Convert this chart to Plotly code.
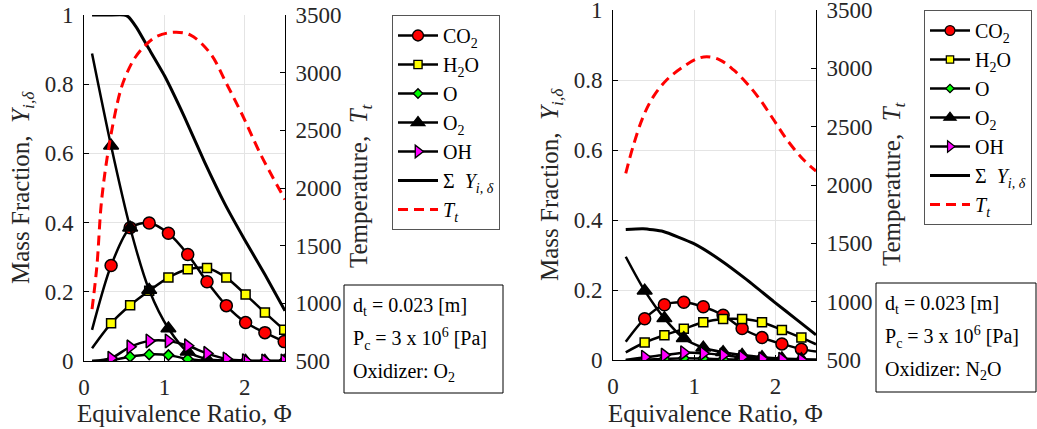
import plotly.graph_objects as go

# ---------------- data: left panel (oxidizer O2) ----------------
PHI_O2 = [0.10, 0.337, 0.574, 0.811, 1.05, 1.29, 1.53, 1.77, 2.01, 2.25, 2.49]
CO2_O2 = [0.090, 0.276, 0.385, 0.399, 0.369, 0.308, 0.229, 0.160, 0.111, 0.082, 0.056]
H2O_O2 = [0.037, 0.109, 0.161, 0.203, 0.241, 0.265, 0.269, 0.241, 0.192, 0.140, 0.090]
O_O2 = [0.000, 0.002, 0.0125, 0.019, 0.017, 0.006, 0.001, 0.000, 0.000, 0.000, 0.000]
O2_O2 = [0.889, 0.622, 0.385, 0.205, 0.094, 0.027, 0.006, 0.001, 0.000, 0.000, 0.000]
OH_O2 = [0.000, 0.008, 0.041, 0.058, 0.058, 0.044, 0.022, 0.006, 0.001, 0.000, 0.000]
MARK_O2 = [False, True, True, True, True, True, True, True, True, True, True]

SUM_PHI_O2 = [0.10, 0.30, 0.50, 0.55, 0.65, 0.80, 1.00, 1.25, 1.50, 1.75, 2.00, 2.25, 2.50]
SUM_O2 = [1.000, 1.000, 1.000, 0.995, 0.965, 0.905, 0.825, 0.705, 0.575, 0.455, 0.350, 0.250, 0.145]

T_PHI_O2 = [0.10, 0.16, 0.22, 0.32, 0.45, 0.53, 0.63, 0.76, 0.90, 1.11, 1.32, 1.57, 1.77, 1.98, 2.19, 2.50]
T_O2 = [950, 1320, 1900, 2400, 2835, 2990, 3125, 3235, 3312, 3350, 3327, 3168, 2908, 2618, 2301, 1900]

# ---------------- data: right panel (oxidizer N2O) ----------------
PHI_N2O = [0.157, 0.39, 0.633, 0.872, 1.112, 1.356, 1.59, 1.835, 2.08, 2.32, 2.50]
CO2_N2O = [0.052, 0.118, 0.158, 0.165, 0.152, 0.128, 0.090, 0.064, 0.046, 0.031, 0.024]
H2O_N2O = [0.022, 0.050, 0.071, 0.089, 0.108, 0.117, 0.117, 0.108, 0.086, 0.064, 0.045]
O_N2O = [0.000, 0.001, 0.003, 0.005, 0.004, 0.002, 0.001, 0.000, 0.000, 0.000, 0.000]
O2_N2O = [0.295, 0.198, 0.119, 0.062, 0.035, 0.022, 0.014, 0.008, 0.004, 0.002, 0.001]
OH_N2O = [0.000, 0.008, 0.014, 0.021, 0.019, 0.014, 0.008, 0.003, 0.002, 0.000, 0.000]
MARK_N2O = [False, True, True, True, True, True, True, True, True, True, False]

SUM_PHI_N2O = [0.157, 0.371, 0.619, 0.99, 1.32, 1.65, 1.98, 2.27, 2.50]
SUM_N2O = [0.373, 0.375, 0.367, 0.333, 0.286, 0.229, 0.167, 0.114, 0.072]

T_PHI_N2O = [0.157, 0.247, 0.371, 0.495, 0.66, 0.866, 1.03, 1.155, 1.32, 1.485, 1.65, 1.814, 1.98, 2.144, 2.35, 2.50]
T_N2O = [2100, 2330, 2585, 2755, 2900, 3014, 3080, 3100, 3071, 2986, 2871, 2729, 2557, 2386, 2214, 2120]

Y_TICKS = [0, 0.2, 0.4, 0.6, 0.8, 1]
Y_TICKTEXT = ["0", "0.2", "0.4", "0.6", "0.8", "1"]
T_TICKS = [500, 1000, 1500, 2000, 2500, 3000, 3500]
X_TICKS = [0, 1, 2]

SPECIES = [
    ("CO<sub>2</sub>", "circle", "#ff0000", 12),
    ("H<sub>2</sub>O", "square", "#ffff00", 9),
    ("O", "diamond", "#00ff00", 8),
    ("O<sub>2</sub>", "triangle-up", "#000000", 13),
    ("OH", "triangle-right", "#ff00ff", 12),
]

FONT = "Liberation Serif"
W, H = 1037, 429

fig = go.Figure()


def add_panel(phi, series, mark, sphi, ssum, tphi, tval, xa, ya, ya2, legend):
    for (name, sym, col, size), vals in zip(SPECIES, series):
        sizes = [size if m else 0 for m in mark]
        lws = [1.5 if m else 0 for m in mark]
        fig.add_trace(go.Scatter(
            x=phi, y=vals, mode="lines+markers", name=name,
            line=dict(color="black", width=2.5, shape="spline", smoothing=0.8),
            marker=dict(symbol=sym, color=col, size=sizes, opacity=1,
                        line=dict(color="black", width=lws)),
            xaxis=xa, yaxis=ya, legend=legend,
        ))
    fig.add_trace(go.Scatter(
        x=sphi, y=ssum, mode="lines",
        name="\u03a3&nbsp;&nbsp;<i>Y</i><sub><i>i, \u03b4</i></sub>",
        line=dict(color="black", width=3, shape="spline", smoothing=0.5),
        xaxis=xa, yaxis=ya, legend=legend,
    ))
    fig.add_trace(go.Scatter(
        x=tphi, y=tval, mode="lines", name="<i>T</i><sub><i>t</i></sub>",
        line=dict(color="#ff0000", width=3, dash="10px,6px", shape="spline"),
        xaxis=xa, yaxis=ya2, legend=legend,
    ))


add_panel(PHI_O2, [CO2_O2, H2O_O2, O_O2, O2_O2, OH_O2], MARK_O2,
          SUM_PHI_O2, SUM_O2, T_PHI_O2, T_O2, "x", "y", "y2", "legend")
add_panel(PHI_N2O, [CO2_N2O, H2O_N2O, O_N2O, O2_N2O, OH_N2O], MARK_N2O,
          SUM_PHI_N2O, SUM_N2O, T_PHI_N2O, T_N2O, "x2", "y3", "y4", "legend2")

TICKFONT = dict(family=FONT, size=23, color="#262626")
GRID = "#e4e4e4"

xcommon = dict(range=[0, 2.5], tickvals=X_TICKS, showgrid=True, gridcolor=GRID,
               showline=True, linecolor="black", linewidth=1, ticks="inside",
               ticklen=5, tickcolor="black", zeroline=False, tickfont=TICKFONT,
               ticklabelstandoff=5, automargin=False, ticklabeloverflow="allow")
ycommon = dict(range=[0, 1], tickvals=Y_TICKS, ticktext=Y_TICKTEXT, showgrid=True,
               gridcolor=GRID, showline=True, linecolor="black", linewidth=1,
               ticks="inside", ticklen=5, tickcolor="black", zeroline=False,
               tickfont=TICKFONT, ticklabelstandoff=5, automargin=False,
               ticklabeloverflow="allow")
tcommon = dict(range=[500, 3500], tickvals=T_TICKS, showgrid=False, side="right",
               showline=True, linecolor="black", linewidth=1, ticks="inside",
               ticklen=5, tickcolor="black", zeroline=False, tickfont=TICKFONT,
               ticklabelstandoff=5, automargin=False, ticklabeloverflow="allow")

L_DOM = [84 / W, 285 / W]
R_DOM = [613 / W, 816 / W]
L_YDOM = [1 - 361 / H, 1 - 15 / H]
R_YDOM = [1 - 360 / H, 1 - 10 / H]

legcommon = dict(font=dict(family=FONT, size=20, color="black"), bgcolor="white",
                 bordercolor="#555555", borderwidth=1, xanchor="left", yanchor="top",
                 itemwidth=40)

fig.update_layout(
    width=W, height=H, autosize=False,
    margin=dict(l=0, r=0, t=0, b=0, pad=0, autoexpand=False),
    paper_bgcolor="white", plot_bgcolor="white", showlegend=True,
    font=dict(family=FONT, color="#262626"),
    xaxis=dict(domain=L_DOM, anchor="y", **xcommon),
    yaxis=dict(domain=L_YDOM, anchor="x", **ycommon),
    yaxis2=dict(overlaying="y", anchor="x", **tcommon),
    xaxis2=dict(domain=R_DOM, anchor="y3", **xcommon),
    yaxis3=dict(domain=R_YDOM, anchor="x2", **ycommon),
    yaxis4=dict(overlaying="y3", anchor="x2", **tcommon),
    legend=dict(x=392 / W, y=1 - 15 / H, **legcommon),
    legend2=dict(x=924 / W, y=1 - 10 / H, **legcommon),
)

TITLEFONT = dict(family=FONT, size=25, color="#262626")


def px_ann(text, x, y, angle=0, font=TITLEFONT, xanchor="center", yanchor="middle"):
    fig.add_annotation(text=text, x=x / W, y=1 - y / H, xref="paper", yref="paper",
                       showarrow=False, textangle=angle, font=font,
                       xanchor=xanchor, yanchor=yanchor)


YTITLE = "Mass Fraction, &nbsp;<i>Y</i><sub><i>i,\u03b4</i></sub>"
TTITLE = "Temperature, &nbsp;<i>T</i><sub><i>t</i></sub>"
XTITLE = "Equivalence Ratio, \u03a6"

px_ann(YTITLE, 22, 188, -90)
px_ann(TTITLE, 360, 186, -90)
px_ann(XTITLE, 184, 413)
px_ann(YTITLE, 552, 185, -90)
px_ann(TTITLE, 893, 184, -90)
px_ann(XTITLE, 715, 413)

BOXFONT = dict(family=FONT, size=20, color="black")
BOX_L = ["d<sub>t</sub> = 0.023 [m]", "P<sub>c</sub> = 3 x 10<sup>6</sup> [Pa]",
         "Oxidizer: O<sub>2</sub>"]
BOX_R = ["d<sub>t</sub> = 0.023 [m]", "P<sub>c</sub> = 3 x 10<sup>6</sup> [Pa]",
         "Oxidizer: N<sub>2</sub>O"]


def text_box(lines, x0, y0, x1, y1):
    fig.add_shape(type="rect", xref="paper", yref="paper",
                  x0=x0 / W, x1=x1 / W, y0=1 - y1 / H, y1=1 - y0 / H,
                  line=dict(color="black", width=1), fillcolor="white")
    for i, t in enumerate(lines):
        px_ann(t, x0 + 7, y0 + 21 + 33 * i, font=BOXFONT, xanchor="left")


text_box(BOX_L, 344, 285, 503, 393)
text_box(BOX_R, 876, 283, 1036, 392)

fig.write_html("out.html")
